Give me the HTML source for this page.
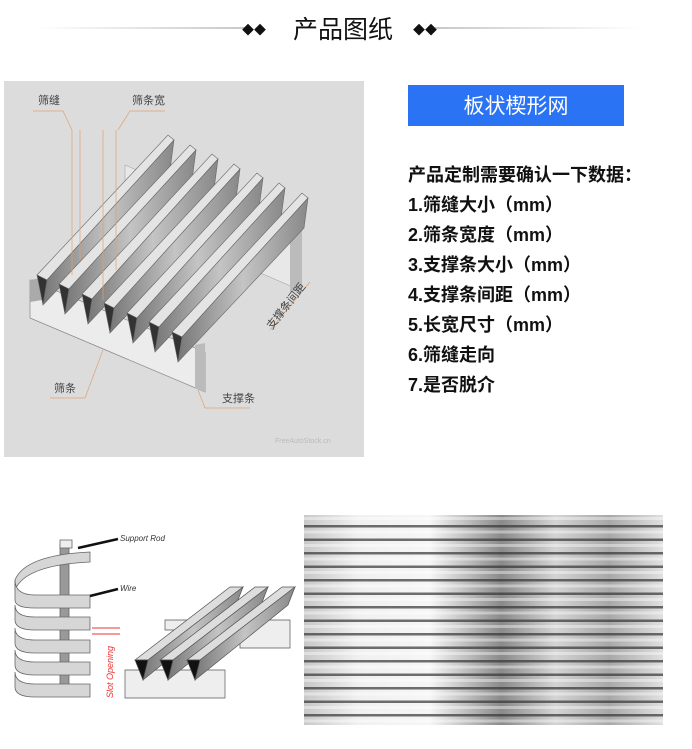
<!DOCTYPE html>
<html><head><meta charset="utf-8"><style>
html,body{margin:0;padding:0;background:#fff;width:692px;height:749px;overflow:hidden;font-family:"Liberation Sans","Noto Sans CJK SC",sans-serif}
.t{position:absolute;left:408px;font-weight:bold;font-size:18px;color:#111;line-height:30px;white-space:nowrap}
</style></head><body>
<svg width="692" height="749" style="position:absolute;left:0;top:0" xmlns="http://www.w3.org/2000/svg">
<defs>
<linearGradient id="ln1" x1="0" x2="1"><stop offset="0" stop-color="#fff"/><stop offset="1" stop-color="#c8c8c8"/></linearGradient>
<linearGradient id="ln2" x1="0" x2="1"><stop offset="0" stop-color="#c8c8c8"/><stop offset="1" stop-color="#fff"/></linearGradient>
<linearGradient id="side" x1="0" y1="0" x2="1" y2="0"><stop offset="0" stop-color="#777"/><stop offset="0.5" stop-color="#c4c4c4"/><stop offset="1" stop-color="#888"/></linearGradient>
<linearGradient id="met" x1="0" x2="1"><stop offset="0" stop-color="#c8c8c8"/><stop offset="0.15" stop-color="#f0f0f0"/><stop offset="0.35" stop-color="#f6f6f6"/><stop offset="0.55" stop-color="#8a8a8a"/><stop offset="0.7" stop-color="#d4d4d4"/><stop offset="0.85" stop-color="#a8a8a8"/><stop offset="1" stop-color="#e0e0e0"/></linearGradient>
<pattern id="gaps" width="360" height="13.5" patternUnits="userSpaceOnUse" y="515">
<rect x="0" y="10" width="360" height="2.5" fill="#333" opacity="0.7"/>
<rect x="0" y="2" width="360" height="3" fill="#fff" opacity="0.4"/>
</pattern>
</defs>
<!-- title -->
<rect x="35" y="27" width="210" height="2" fill="url(#ln1)"/>
<rect x="435" y="27" width="205" height="2" fill="url(#ln2)"/>
<text x="254" y="34" font-size="12" fill="#111" text-anchor="middle">◆◆</text>
<text x="425" y="34" font-size="12" fill="#111" text-anchor="middle">◆◆</text>
<text x="343" y="38" font-size="25" fill="#111" text-anchor="middle" font-family="Liberation Sans, Noto Sans CJK SC, sans-serif">产品图纸</text>
<!-- left diagram -->
<rect x="4" y="81" width="360" height="376" fill="#dcdcdc"/>
<polygon points="125,165 300,240 300,290 125,215" fill="#e8e8e8" stroke="#999" stroke-width="0.5"/>
<polygon points="290,232 302,230 302,290 290,292" fill="#bbb"/>
<polygon points="30,280 205,352 205,392 30,318" fill="#ececec" stroke="#888" stroke-width="0.7"/>
<polygon points="30,280 42,278 42,300 30,302" fill="#aaa"/>
<g stroke="#666" stroke-width="0.6">
<polygon points="37,275 168,135 174,140 47,280" fill="#e4e4e4"/><polygon points="37,275 47,280 43,305" fill="#333"/><polygon points="47,280 174,140 170,170 43,305" fill="url(#side)"/>
<polygon points="59,284 190,145 196,150 69,289" fill="#e4e4e4"/><polygon points="59,284 69,289 65,314" fill="#333"/><polygon points="69,289 196,150 192,180 65,314" fill="url(#side)"/>
<polygon points="82,294 212,154 218,159 92,299" fill="#e4e4e4"/><polygon points="82,294 92,299 88,324" fill="#333"/><polygon points="92,299 218,159 214,189 88,324" fill="url(#side)"/>
<polygon points="104,303 234,164 240,169 114,308" fill="#e4e4e4"/><polygon points="104,303 114,308 110,333" fill="#333"/><polygon points="114,308 240,169 236,199 110,333" fill="url(#side)"/>
<polygon points="127,313 257,173 263,178 137,318" fill="#e4e4e4"/><polygon points="127,313 137,318 133,343" fill="#333"/><polygon points="137,318 263,178 259,208 133,343" fill="url(#side)"/>
<polygon points="149,322 279,183 285,188 159,327" fill="#e4e4e4"/><polygon points="149,322 159,327 155,352" fill="#333"/><polygon points="159,327 285,188 281,218 155,352" fill="url(#side)"/>
<polygon points="172,332 302,193 308,198 182,337" fill="#e4e4e4"/><polygon points="172,332 182,337 178,362" fill="#333"/><polygon points="182,337 308,198 304,228 178,362" fill="url(#side)"/>
</g>
<polygon points="195,345 205,343 205,392 195,388" fill="#bbb"/>
<g stroke="#e0a070" stroke-width="0.7" fill="none">
<line x1="33" y1="111" x2="63" y2="111"/><line x1="63" y1="111" x2="72" y2="130"/>
<line x1="130" y1="111" x2="165" y2="111"/><line x1="130" y1="111" x2="118" y2="130"/>
<line x1="72" y1="130" x2="72" y2="275"/><line x1="80" y1="130" x2="80" y2="260"/>
<line x1="103" y1="130" x2="103" y2="300"/><line x1="116" y1="130" x2="116" y2="270"/>
<line x1="50" y1="398" x2="85" y2="398"/><line x1="85" y1="398" x2="103" y2="350"/>
<line x1="205" y1="408" x2="250" y2="408"/><line x1="205" y1="408" x2="198" y2="390"/>
<line x1="270" y1="330" x2="310" y2="282"/>
</g>
<g font-size="11" fill="#444" font-family="Liberation Sans, Noto Sans CJK SC, sans-serif">
<text x="38" y="104">筛缝</text><text x="132" y="104">筛条宽</text>
<text x="54" y="392">筛条</text><text x="222" y="402">支撑条</text>
<text x="0" y="0" transform="translate(272,330) rotate(-52)">支撑条间距</text>
</g>
<text x="275" y="443" font-size="7" fill="#bbb">FreeAutoStock.cn</text>
<rect x="408" y="85" width="216" height="41" fill="#2a73f5"/>
<text x="516" y="113" font-size="21" fill="#fff" text-anchor="middle" font-family="Liberation Sans, Noto Sans CJK SC, sans-serif">板状楔形网</text>
<g stroke="#666" stroke-width="0.8">
<rect x="60" y="545" width="9" height="150" fill="#999"/>
<g fill="#d6d6d6">
<path d="M90,552 Q25,555 15,580 L15,590 Q25,565 90,562 Z"/>
<path d="M90,595 L35,595 Q15,595 15,580 L15,600 Q15,608 35,608 L90,608 Z"/>
<path d="M90,617 L35,617 Q15,617 15,605 L15,620 Q15,630 35,630 L90,630 Z"/>
<path d="M90,640 L35,640 Q15,640 15,628 L15,643 Q15,653 35,653 L90,653 Z"/>
<path d="M90,662 L35,662 Q15,662 15,650 L15,665 Q15,675 35,675 L90,675 Z"/>
<path d="M90,684 L35,684 Q15,684 15,672 L15,687 Q15,697 35,697 L90,697 Z"/>
</g>
<rect x="60" y="540" width="12" height="8" fill="#eee"/>
</g>
<g stroke="#111" stroke-width="2.5"><line x1="118" y1="539" x2="78" y2="548"/><line x1="118" y1="589" x2="90" y2="596"/></g>
<text x="120" y="541" font-size="8" font-style="italic" fill="#333">Support Rod</text>
<text x="120" y="591" font-size="8" font-style="italic" fill="#333">Wire</text>
<g stroke="#e33" stroke-width="1"><line x1="92" y1="628" x2="120" y2="628"/><line x1="92" y1="634" x2="120" y2="634"/></g>
<text x="0" y="0" transform="translate(113,698) rotate(-90)" font-size="9" font-style="italic" fill="#e33">Slot Opening</text>
<g stroke="#555" stroke-width="0.7">
<polygon points="165,620 290,620 290,648 240,648 240,630 165,630" fill="#eee"/>
<polygon points="125,670 225,670 225,698 125,698" fill="#eee"/>
<polygon points="135,660 230,587 243,587 148,660" fill="#ddd"/><polygon points="148,660 243,587 236,605 143,680" fill="url(#side)"/><polygon points="135,660 148,660 143,680" fill="#111"/>
<polygon points="160,660 255,587 268,587 173,660" fill="#ddd"/><polygon points="173,660 268,587 261,605 168,680" fill="url(#side)"/><polygon points="160,660 173,660 168,680" fill="#111"/>
<polygon points="187,660 282,587 295,587 200,660" fill="#ddd"/><polygon points="200,660 295,587 288,605 195,680" fill="url(#side)"/><polygon points="187,660 200,660 195,680" fill="#111"/>
</g>
<rect x="304" y="515" width="359" height="210" fill="url(#met)"/>
<rect x="304" y="515" width="359" height="210" fill="url(#gaps)"/>
</svg>
<div class="t" style="top:160px">产品定制需要确认一下数据：</div>
<div class="t" style="top:190px">1.筛缝大小（mm）</div>
<div class="t" style="top:220px">2.筛条宽度（mm）</div>
<div class="t" style="top:250px">3.支撑条大小（mm）</div>
<div class="t" style="top:280px">4.支撑条间距（mm）</div>
<div class="t" style="top:310px">5.长宽尺寸（mm）</div>
<div class="t" style="top:340px">6.筛缝走向</div>
<div class="t" style="top:370px">7.是否脱介</div>
</body></html>
